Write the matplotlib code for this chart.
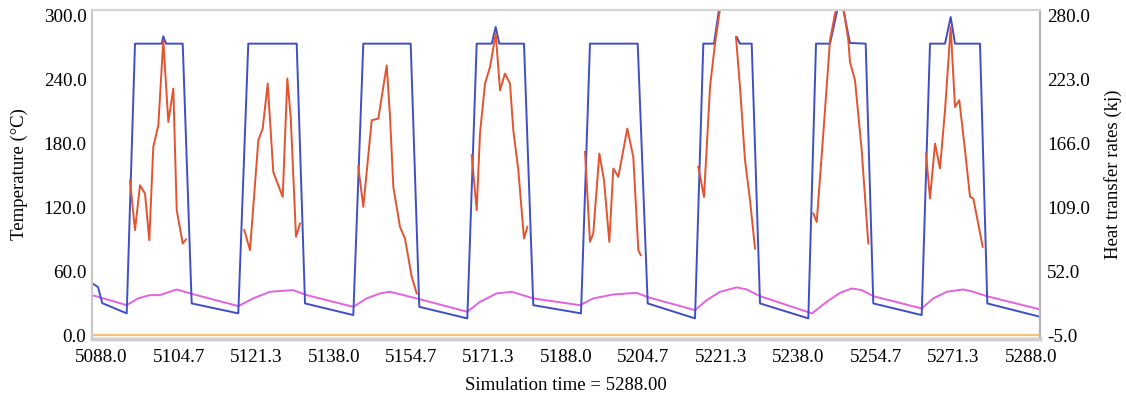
import numpy as np
import matplotlib.pyplot as plt
from matplotlib.ticker import FormatStrFormatter

plt.rcParams['font.family'] = ['Liberation Serif', 'DejaVu Serif']

# wall temperature (blue), left axis
blue_t = [5086.0, 5087.3, 5088.2, 5093.47, 5095.25, 5101.0, 5101.34, 5101.92, 5105.52,
          5107.45, 5117.48, 5119.63, 5130.05, 5131.84, 5142.23, 5144.38, 5154.58, 5156.43,
          5166.76, 5168.78, 5172.01, 5172.87, 5173.65, 5178.96, 5180.96, 5191.23, 5193.16,
          5203.43, 5205.58, 5215.76, 5217.55, 5219.85, 5222.0, 5223.5, 5224.73, 5225.44,
          5227.96, 5229.75, 5240.14, 5241.80, 5244.81, 5247.07, 5249.11, 5252.49, 5254.13,
          5264.54, 5266.33, 5269.56, 5270.78, 5271.71, 5277.09, 5278.66, 5290.0]
blue_v = [49.3, 45.6, 30.6, 21.0, 273.5, 273.5, 280.4, 273.5, 273.5,
          30.3, 21.0, 273.5, 273.5, 30.3, 19.4, 273.5, 273.5, 27.1,
          16.3, 273.5, 273.5, 289.1, 273.5, 273.5, 28.7, 21.0, 273.5,
          273.5, 30.3, 16.3, 273.5, 273.5, 337.4, np.nan, 279.7, 273.5,
          273.5, 30.3, 16.3, 273.5, 273.5, 318.7, 274.1, 273.5, 30.3,
          19.4, 273.5, 273.5, 298.4, 273.5, 273.5, 30.3, 17.8]

# ambient temperature (pink), left axis
pink_t = [5086.0, 5093.47, 5095.90, 5098.48, 5100.63, 5104.23, 5107.09, 5117.48, 5120.65,
          5124.30, 5129.25, 5132.20, 5142.23, 5145.11, 5147.97, 5150.13, 5155.87, 5166.76,
          5169.49, 5173.09, 5176.32, 5180.96, 5191.01, 5193.87, 5198.18, 5203.21, 5205.37,
          5215.76, 5218.28, 5221.14, 5224.73, 5226.88, 5229.75, 5240.94, 5244.10, 5246.96,
          5249.48, 5251.63, 5254.13, 5264.54, 5267.04, 5269.92, 5273.50, 5275.65, 5278.53,
          5290.0]
pink_v = [38.1, 28.7, 35.0, 38.1, 38.1, 43.4, 39.7, 27.8, 35.0,
          41.2, 42.8, 38.1, 27.1, 35.0, 39.7, 41.2, 35.0, 22.5,
          31.8, 39.7, 41.2, 35.0, 28.7, 35.0, 38.7, 40.2, 36.5,
          24.0, 33.4, 41.2, 45.3, 43.4, 37.1, 21.0, 31.8, 40.2,
          44.3, 42.8, 37.1, 25.6, 35.0, 41.2, 43.4, 41.2, 37.1,
          24.7]

# heat transfer rate (red), right axis, nan = no flow between cycles
red_t = [5094.18, 5095.25, 5096.33, 5097.41, 5098.33, 5099.19, 5100.27, 5101.34, 5102.42,
         5103.50, 5104.23, 5105.52, 5106.23, np.nan,
         5118.77, 5120.0, 5121.79, 5122.73, 5123.81, 5125.01, 5127.04, 5128.03, 5128.76,
         5129.90, 5130.76, np.nan,
         5143.31, 5144.38, 5146.19, 5147.61, 5149.42, 5150.13, 5150.84, 5152.28, 5153.35,
         5154.80, 5155.87, np.nan,
         5167.71, 5168.78, 5169.49, 5170.57, 5171.65, 5172.87, 5173.80, 5174.87, 5175.95,
         5176.66, 5177.74, 5178.96, 5179.67, np.nan,
         5192.09, 5193.16, 5193.87, 5195.17, 5196.18, 5197.32, 5198.18, 5199.26, 5201.19,
         5202.48, 5203.56, 5204.07, np.nan,
         5216.47, 5217.70, 5218.99, 5220.06, 5221.57, np.nan, 5224.58, 5225.44, 5226.52,
         5227.60, 5228.67, np.nan,
         5241.22, 5241.95, 5243.37, 5244.81, 5245.89, 5247.07, 5247.89, 5248.75, 5249.11,
         5250.19, 5251.63, 5253.05, np.nan,
         5265.47, 5266.33, 5267.41, 5268.48, 5269.56, 5270.78, 5271.71, 5272.63, 5273.86,
         5274.94, 5275.65, 5277.67]
red_v = [133.3, 89.0, 128.9, 121.5, 80.0, 163.0, 182.2, 257.8, 185.2,
         214.9, 106.7, 77.1, 80.7, np.nan,
         89.0, 71.2, 168.9, 179.3, 219.3, 140.7, 118.5, 223.8, 189.6,
         83.0, 94.9, np.nan,
         145.2, 109.7, 186.7, 188.2, 235.5, 189.6, 127.4, 91.9, 81.5,
         47.4, 32.7, np.nan,
         155.6, 106.7, 174.9, 219.3, 234.0, 263.8, 213.3, 228.2, 219.3,
         177.8, 142.3, 81.5, 91.9, np.nan,
         158.5, 78.5, 86.0, 157.1, 133.3, 78.5, 143.8, 136.3, 179.3,
         154.0, 71.2, 66.7, np.nan,
         145.2, 118.5, 216.3, 254.8, 297.8, np.nan, 260.7, 216.3, 151.2,
         115.6, 72.7, np.nan,
         103.8, 96.3, 174.9, 257.8, 281.5, 297.8, 281.5, 257.8, 238.5,
         222.2, 160.0, 77.1, np.nan,
         157.1, 117.1, 166.0, 143.8, 195.6, 269.6, 198.5, 204.5, 160.0,
         118.5, 117.1, 74.1]

# set point line (orange)
orange_t = [5086.0, 5290.0]
orange_v = [1.2, 1.2]

left_ticks = [0, 60, 120, 180, 240, 300]
right_ticks = [-5, 52, 109, 166, 223, 280]
x_ticks = [5088 + i * 200 / 12 for i in range(13)]

fig = plt.figure(figsize=(11.26, 4.0), dpi=100)
ax = fig.add_axes([92 / 1126, 1 - 339 / 400, 948 / 1126, 329 / 400])

ax.plot(orange_t, orange_v, color='#f5c27a', lw=1.7)
ax.plot(pink_t, pink_v, color='#e462de', lw=1.4)
ax.plot(blue_t, blue_v, color='#3f4ec6', lw=1.4)

ax.set_xlim(5086, 5290)
ax.set_ylim(-3, 305)
ax.set_xticks(x_ticks)
ax.set_yticks(left_ticks)
ax.xaxis.set_major_formatter(FormatStrFormatter('%.1f'))
ax.yaxis.set_major_formatter(FormatStrFormatter('%.1f'))
ax.tick_params(axis='both', length=0, labelsize=13.8)
ax.tick_params(axis='x', pad=7)
ax.tick_params(axis='y', pad=4)
ax.set_xlabel('Simulation time = 5288.00', fontsize=13.5, labelpad=8)
ax.set_ylabel('Temperature (°C)', fontsize=13.5, labelpad=11)

ax2 = ax.twinx()
ax2.plot(red_t, red_v, color='#e4532f', lw=1.4)
ax2.set_ylim(-5 - 3 * 0.95, -5 + 305 * 0.95)
ax2.set_yticks(right_ticks)
ax2.yaxis.set_major_formatter(FormatStrFormatter('%.1f'))
ax2.tick_params(axis='y', length=0, labelsize=13.8, pad=5)
ax2.set_ylabel('Heat transfer rates (kj)', fontsize=13.5, labelpad=10)

for a in (ax, ax2):
    a.spines['left'].set_color('#c8c8c8')
    a.spines['left'].set_linewidth(1.5)
    a.spines['top'].set_color('#d4d4d4')
    a.spines['top'].set_linewidth(1.5)
    a.spines['right'].set_color('#b4b4b4')
    a.spines['right'].set_linewidth(1.5)
    a.spines['bottom'].set_color('#cfcfcf')
    a.spines['bottom'].set_linewidth(2.5)

fig.savefig('out.png', dpi=100)
